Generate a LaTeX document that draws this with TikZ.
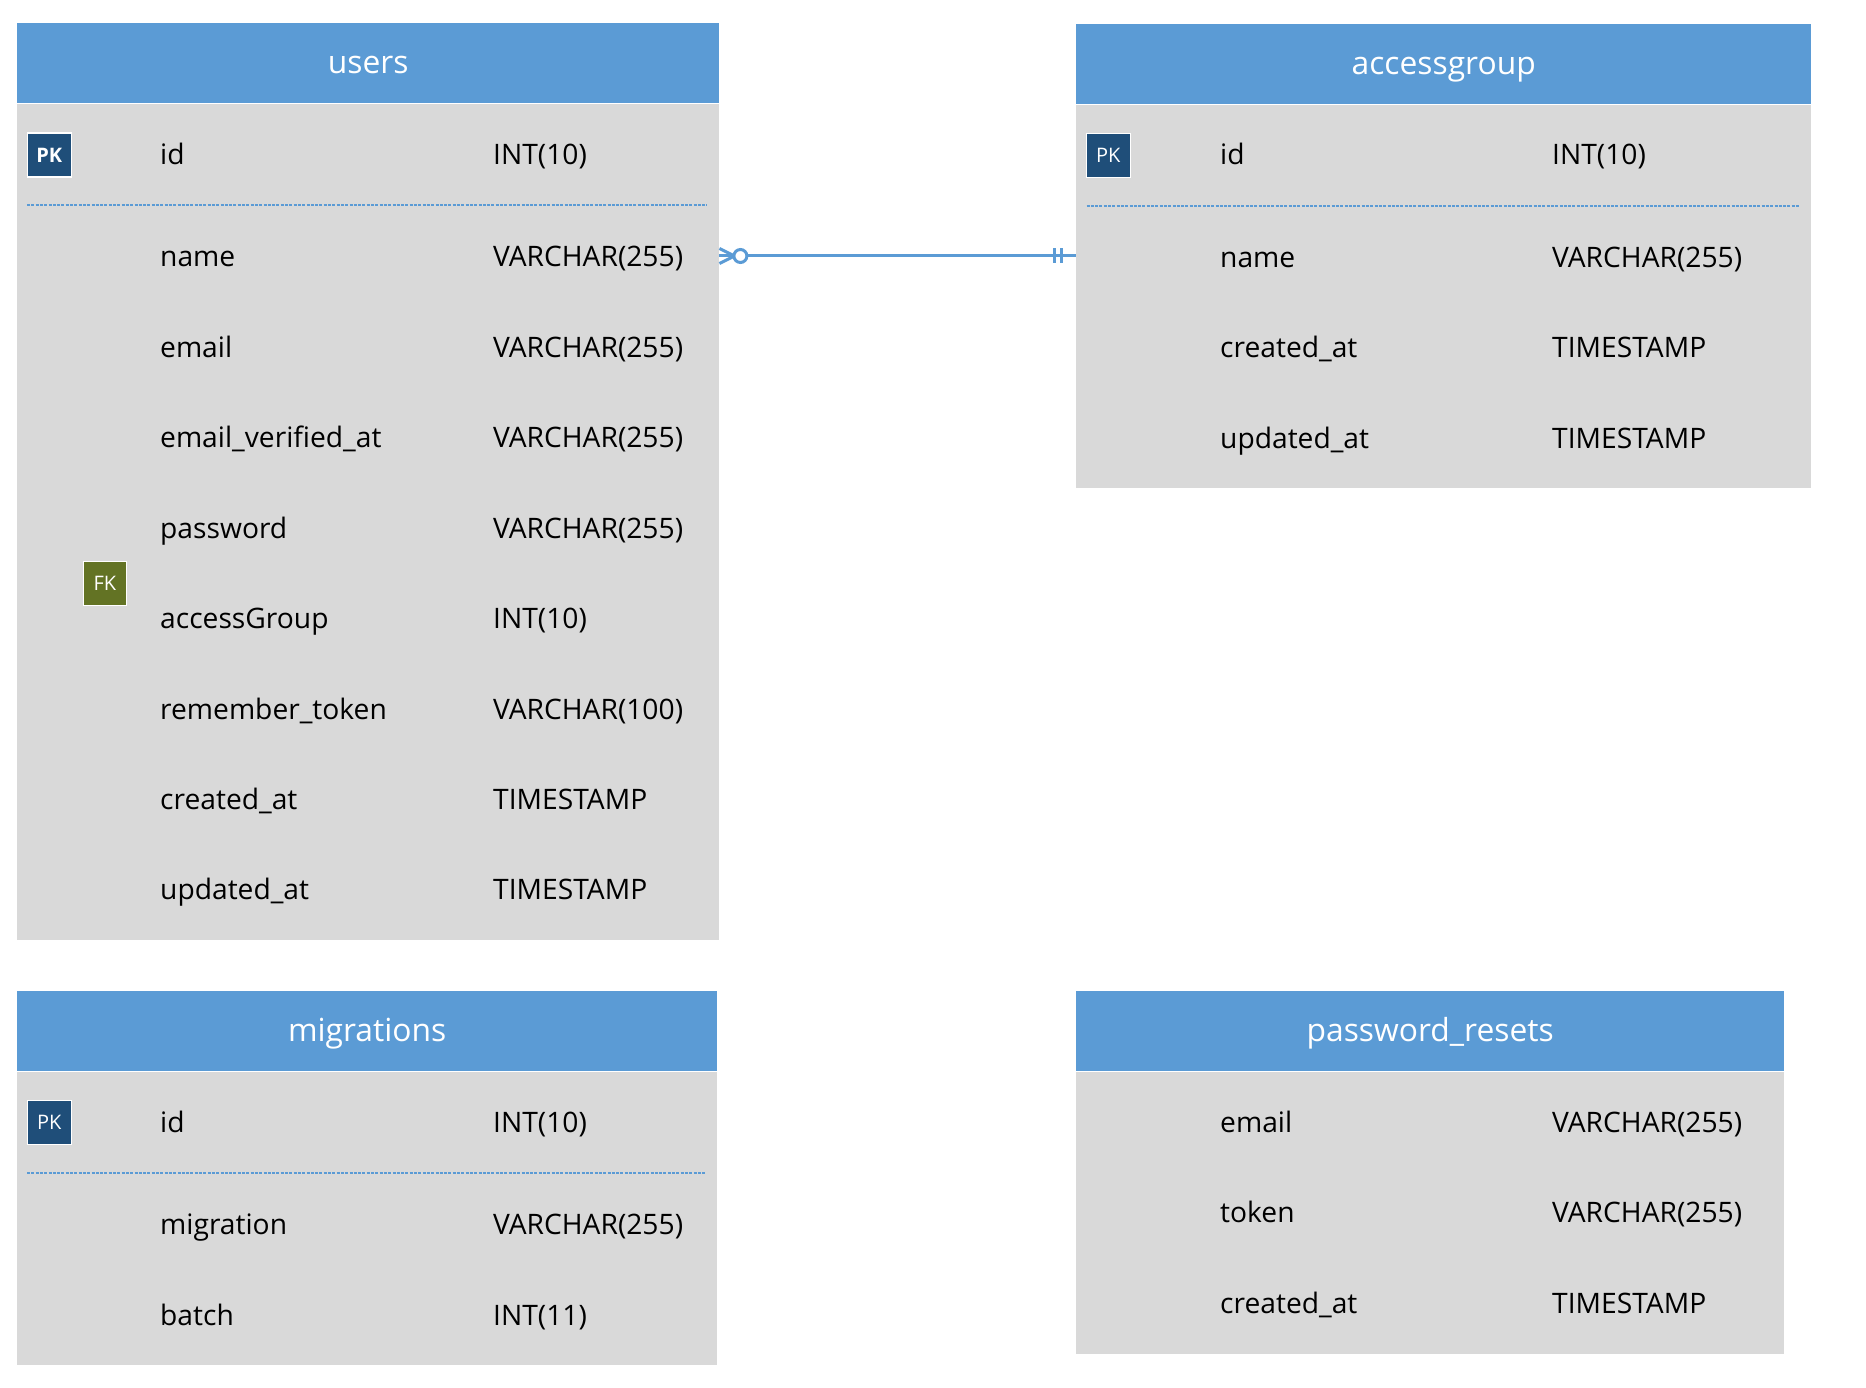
\documentclass[tikz,border=0pt]{standalone}
\usepackage{fontspec}
\setmainfont{Open Sans}
\definecolor{hdr}{HTML}{5B9BD5}
\definecolor{bodyc}{HTML}{D9D9D9}
\definecolor{pkc}{HTML}{1F4E79}
\definecolor{fkc}{HTML}{637324}
\tikzset{
  x=1pt,y=-1pt,
  tblhead/.style={anchor=north west,fill=hdr,draw=none,inner sep=0,text=white,text height=27pt,text depth=7pt,font=\fontsize{31.8}{34}\selectfont},
  tblbody/.style={anchor=north west,fill=bodyc,draw=none,inner sep=0},
  cell/.style={anchor=base west,inner sep=0,yshift=-11.2pt,text=black,font=\fontsize{28.2}{32}\selectfont},
  keybox/.style={anchor=north west,draw=white,line width=1.2pt,inner sep=0,text=white,font=\fontsize{20}{22}\selectfont,minimum width=43.5pt,minimum height=44pt},
  sep/.style={draw=hdr,line width=2pt,dash pattern=on 3pt off 1.3pt},
  rel/.style={draw=hdr,line width=3pt},
}
\newcommand{\tbl}[6]{% name, title, x, y, w, bottom
  \node[tblhead,minimum width=#5pt,minimum height=80pt] (#1head) at (#3,#4) {#2};
  \node[tblbody,minimum width=#5pt,minimum height={#6-#4-81}] (#1body) at (#3,#4+81) {};
}
\newcommand{\row}[6]{% id, name, type, nx, tx, y
  \node[cell] (#1n) at (#4,#6) {#2};
  \node[cell] (#1t) at (#5,#6) {#3};
}
\begin{document}
\begin{tikzpicture}
\useasboundingbox (0,0) rectangle (1866,1388);
\tbl{u}{users}{17}{23}{702}{940}
\tbl{a}{accessgroup}{1076}{24}{735}{488}
\tbl{m}{migrations}{17}{991}{700}{1365}
\tbl{p}{password\_resets}{1076}{991}{708}{1354}
% users
\node[keybox,fill=pkc,font=\bfseries\fontsize{20}{22}\selectfont] (upk) at (27,132.5) {PK};
\draw[sep] (27,205.5) -- (707,205.5);
\row{ua}{id}{INT(10)}{160}{493}{153.5}
\row{ub}{name}{VARCHAR(255)}{160}{493}{255}
\row{uc}{email}{VARCHAR(255)}{160}{493}{346}
\row{ud}{email\_verified\_at}{VARCHAR(255)}{160}{493}{436}
\row{ue}{password}{VARCHAR(255)}{160}{493}{527}
\row{uf}{accessGroup}{INT(10)}{160}{493}{617}
\row{ug}{remember\_token}{VARCHAR(100)}{160}{493}{708}
\row{uh}{created\_at}{TIMESTAMP}{160}{493}{798}
\row{ui}{updated\_at}{TIMESTAMP}{160}{493}{888}
\node[keybox,fill=fkc,minimum width=42.5pt] (ufk) at (83,561) {FK};
% accessgroup
\node[keybox,fill=pkc] (apk) at (1086,133) {PK};
\draw[sep] (1086.5,206) -- (1800,206);
\row{aa}{id}{INT(10)}{1220}{1552}{153.5}
\row{ab}{name}{VARCHAR(255)}{1220}{1552}{256}
\row{ac}{created\_at}{TIMESTAMP}{1220}{1552}{346}
\row{ad}{updated\_at}{TIMESTAMP}{1220}{1552}{437}
% migrations
\node[keybox,fill=pkc] (mpk) at (27,1100) {PK};
\draw[sep] (27,1172.5) -- (706,1172.5);
\row{ma}{id}{INT(10)}{160}{493}{1121}
\row{mb}{migration}{VARCHAR(255)}{160}{493}{1223}
\row{mc}{batch}{INT(11)}{160}{493}{1314}
% password_resets
\row{pa}{email}{VARCHAR(255)}{1220}{1552}{1121}
\row{pb}{token}{VARCHAR(255)}{1220}{1552}{1211}
\row{pc}{created\_at}{TIMESTAMP}{1220}{1552}{1302}
% relationship
\coordinate (rely) at (0,256);
\coordinate (relu) at (ubody.east |- rely);
\coordinate (rela) at (abody.west |- rely);
\draw[rel] (relu) -- (rela);
\draw[rel] ([yshift=7.5pt]relu) -- ([xshift=15pt]relu) -- ([yshift=-7.5pt]relu);
\draw[rel,fill=white] ([xshift=21pt]relu) circle (6.5);
\draw[rel] ([xshift=-22pt,yshift=7.5pt]rela) -- ([xshift=-22pt,yshift=-7.5pt]rela);
\draw[rel] ([xshift=-15pt,yshift=7.5pt]rela) -- ([xshift=-15pt,yshift=-7.5pt]rela);
\end{tikzpicture}
\end{document}
